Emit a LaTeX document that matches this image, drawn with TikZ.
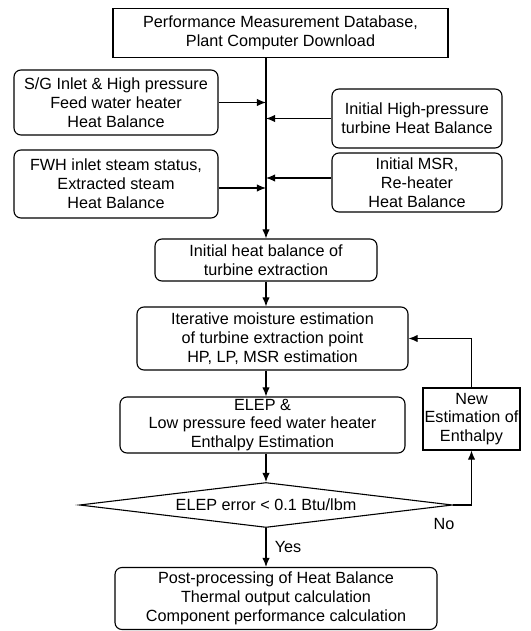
\documentclass[tikz,border=0pt]{standalone}
\usepackage{fontspec}
\setmainfont{Liberation Sans}
\usetikzlibrary{arrows.meta,shapes.geometric}

\begin{document}
\begin{tikzpicture}[x=1pt, y=-1pt, line width=1.1pt, every node/.style={font=\fontsize{16.2}{18.8}\selectfont, align=center}, >={Latex[length=3.2mm,width=2.6mm]}]
	\useasboundingbox (0,0) rectangle (530,631);
	\tikzset{rbox/.style={draw, rounded corners=7pt, inner sep=0pt}, sbox/.style={draw, inner sep=0pt}}
	\node[sbox, minimum width=335pt, minimum height=49pt] (db) at (280.5,33) {Performance Measurement Database,\\Plant Computer Download};
	\node[rbox, minimum width=204pt, minimum height=65pt] (sg) at (116,102.5) {S/G Inlet \& High pressure\\Feed water heater\\Heat Balance};
	\node[rbox, minimum width=170pt, minimum height=59pt] (ihp) at (417,118.5) {Initial High-pressure\\turbine Heat Balance};
	\node[rbox, minimum width=204pt, minimum height=68pt] (fwh) at (116,184) {FWH inlet steam status,\\Extracted steam\\Heat Balance};
	\node[rbox, minimum width=170pt, minimum height=59pt] (msr) at (417,182.5) {Initial MSR,\\Re-heater\\Heat Balance};
	\node[rbox, minimum width=222pt, minimum height=42pt] (ihb) at (266,260) {Initial heat balance of\\turbine extraction};
	\node[rbox, minimum width=271pt, minimum height=63pt] (ime) at (272.5,338.5) {Iterative moisture estimation\\of turbine extraction point\\HP, LP, MSR estimation};
	\node[rbox, minimum width=285pt, minimum height=56pt] (elep) at (262.5,425) {ELEP \&\\Low pressure feed water heater\\Enthalpy Estimation};
	\node[sbox, minimum width=97pt, minimum height=62pt] (new) at (471.5,419) {New\\Estimation of\\Enthalpy};
	\node[draw, shape=diamond, aspect=8.3, inner sep=0pt, minimum width=373pt, minimum height=45pt] (dia) at (266,505) {ELEP error < 0.1 Btu/lbm};
	\node[rbox, minimum width=322pt, minimum height=62pt] (fin) at (276,598.5) {Post-processing of Heat Balance\\Thermal output calculation\\Component performance calculation};
	\node (no) at (444,524) {No};
	\node (yes) at (288,547) {Yes};
	% trunk and side inputs
	\draw[->] (db.south -| ihb.north) -- (ihb.north);
	\draw[->] (sg.east) -- (sg.east -| ihb.north);
	\draw[->] (ihp.west) -- (ihp.west -| ihb.north);
	\draw[->] ([yshift=-4pt]fwh.east) -- ([yshift=-4pt]fwh.east -| ihb.north);
	\draw[->] ([yshift=4.5pt]msr.west) -- ([yshift=4.5pt]msr.west -| ihb.north);
	% main flow
	\draw[->] (ihb.south) -- (ihb.south |- ime.north);
	\draw[->] (ime.south -| ihb.south) -- (elep.north -| ihb.south);
	\draw[->] (elep.south -| ihb.south) -- (dia.north);
	\draw[->] (dia.south) -- (dia.south |- fin.north);
	% loop back
	\draw[->] (dia.east) -| (new.south);
	\draw[->] (new.north) |- (ime.east);
\end{tikzpicture}
\end{document}
